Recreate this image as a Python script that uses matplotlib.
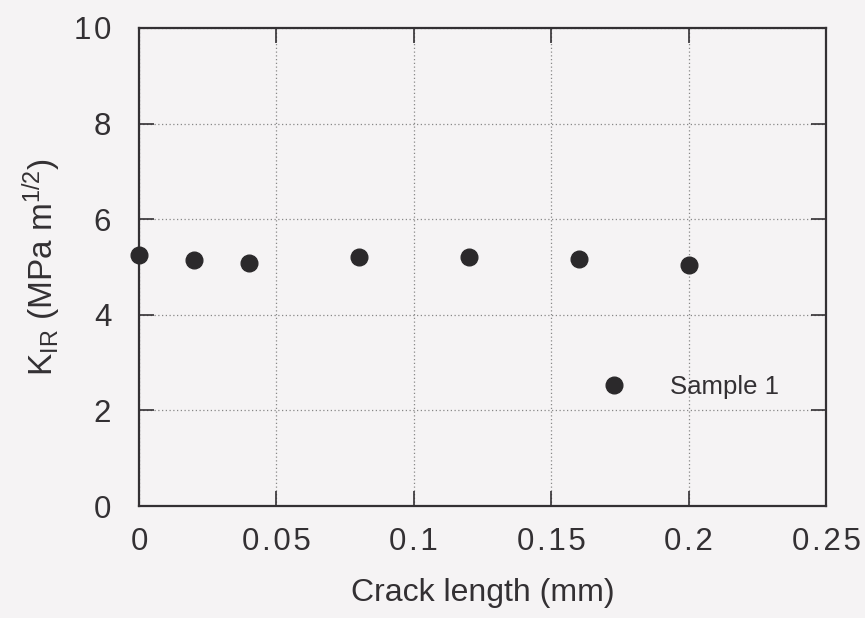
import matplotlib.pyplot as plt
import numpy as np

plt.rcParams['font.family'] = ['Liberation Sans', 'DejaVu Sans']
plt.rcParams['mathtext.fontset'] = 'custom'
plt.rcParams['mathtext.rm'] = 'Liberation Sans'
plt.rcParams['mathtext.it'] = 'Liberation Sans'

crack_length = [0.0, 0.02, 0.04, 0.08, 0.12, 0.16, 0.20]
k_ir = [5.25, 5.15, 5.08, 5.20, 5.20, 5.16, 5.04]
x_ticks = [0, 0.05, 0.1, 0.15, 0.2, 0.25]
x_tick_labels = ['0', '0.05', '0.1', '0.15', '0.2', '0.25']
y_ticks = [0, 2, 4, 6, 8, 10]
y_tick_labels = ['0', '2', '4', '6', '8', '10']

bg = '#f5f3f4'
ink = '#333033'


def spaced(s):
    # the scanned tick labels are letter-spaced
    return '\u200a'.join(s)


fig = plt.figure(figsize=(8.65, 6.18), dpi=100, facecolor=bg)
ax = fig.add_axes([0.1607, 0.1812, 0.7944, 0.7735], facecolor=bg)

ax.plot(crack_length, k_ir, 'o', color='#2b292b', markersize=12,
        clip_on=False, label='Sample 1', zorder=5)

ax.set_xlim(0, 0.25)
ax.set_ylim(0, 10)
ax.set_xticks(x_ticks)
ax.set_xticklabels([spaced(t) for t in x_tick_labels])
ax.set_yticks(y_ticks)
ax.set_yticklabels([spaced(t) for t in y_tick_labels])

ax.grid(True, linestyle=(0, (1, 2)), color='#888888', linewidth=0.9)
ax.tick_params(direction='in', top=True, right=True, length=11, width=1.2,
               colors=ink, labelsize=22.5, pad=15)
ax.tick_params(axis='y', pad=20)
for s in ax.spines.values():
    s.set_linewidth(1.6)
    s.set_color(ink)

ax.set_xlabel('Crack length (mm)', fontsize=23, color=ink, labelpad=15)
ax.set_ylabel(r'K$_{\rm IR}$ (MPa m$^{1/2}$)', fontsize=24, color=ink, labelpad=8)

ax.legend(loc='center left', bbox_to_anchor=(0.62, 0.25), frameon=False,
          fontsize=18.5, handletextpad=1.2, labelcolor=ink, markerscale=1.0)

fig.savefig('out.png', dpi=100, facecolor=bg)
